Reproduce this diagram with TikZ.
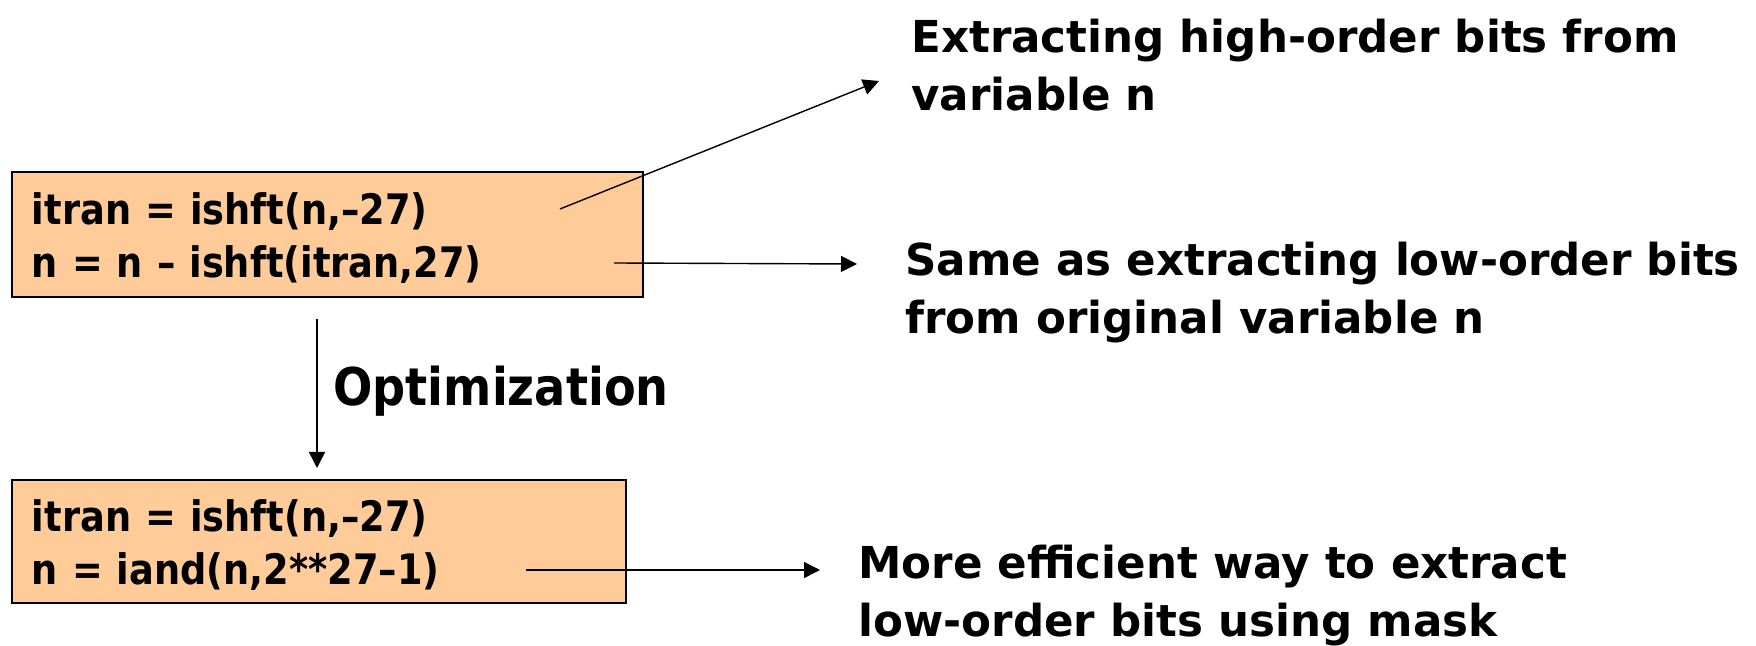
\documentclass[tikz,border=0pt]{standalone}
\usepackage{fontspec}
\usetikzlibrary{arrows.meta}
\newfontfamily\annfont{DejaVu Sans}[FakeStretch=0.99]
\newfontfamily\codefont{DejaVu Sans}[FakeStretch=0.875]
\newfontfamily\optfont{DejaVu Sans}[FakeStretch=0.89]
\definecolor{boxfill}{RGB}{255,204,153}
\newcommand\codetopstrut{\rule{0pt}{\dimexpr 0.7\baselineskip+6pt\relax}}
\begin{document}
\begin{tikzpicture}[x=0.5pt,y=-0.5pt,
  codebox/.style={draw=black, line width=0.7pt, fill=boxfill, inner xsep=10pt, inner ysep=0pt, align=left,
    font=\codefont\bfseries\fontsize{21pt}{26.5pt}\selectfont},
  note/.style={inner sep=0pt, align=left, anchor=west, font=\annfont\bfseries\fontsize{22pt}{29pt}\selectfont},
  conn/.style={line width=0.7pt, -{Triangle[length=8pt,width=8pt]}}]
\useasboundingbox (0,0) rectangle (1756,646);
\node[codebox, minimum width=315.5pt, minimum height=62.5pt, text width=295.5pt] (b1) at (327.5,234.5)
  {\codetopstrut itran = ishft(n,–27)\\\strut n = n – ishft(itran,27)};
\node[codebox, minimum width=307pt, minimum height=61.5pt, text width=287pt] (b2) at (319,541.5)
  {\codetopstrut itran = ishft(n,–27)\\\strut n = iand(n,2**27–1)};
\node[note] (t1) at (911,69.5) {\strut Extracting high-order bits from\\\strut variable n};
\node[note] (t2) at (905,292.5) {\strut Same as extracting low-order bits\\\strut from original variable n};
\node[note] (t3) at (858,595.5) {\strut More efficient way to extract\\\strut low-order bits using mask};
\node[inner sep=0pt, anchor=base west, font=\optfont\bfseries\fontsize{26pt}{30pt}\selectfont] (opt) at (333,406) {Optimization};
\coordinate (s1) at (560,209);
\coordinate (e1) at (879,81);
\coordinate (s2) at (614,263);
\coordinate (e2) at (857,264);
\coordinate (s3) at (317,319);
\coordinate (e3) at (317,468);
\coordinate (s4) at (526,570);
\coordinate (e4) at (820,570);
\draw[conn] (s1) -- (e1);
\draw[conn] (s2) -- (e2);
\draw[conn] (s3) -- (e3);
\draw[conn] (s4) -- (e4);
\end{tikzpicture}
\end{document}
